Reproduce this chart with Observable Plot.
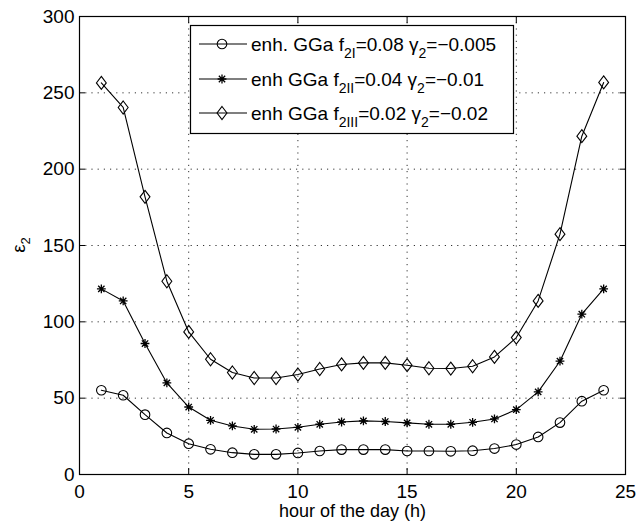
<!DOCTYPE html>
<html><head><meta charset="utf-8">
<script src="https://cdn.jsdelivr.net/npm/d3@7"></script>
<script src="https://cdn.jsdelivr.net/npm/@observablehq/plot@0.6"></script>
<style>
body{margin:0;background:#fff}
svg{font-family:"Liberation Sans",Arial,Helvetica,sans-serif}
</style>
</head><body><div id="chart"></div>
<script>
// ---- data ----
const hours = [1,2,3,4,5,6,7,8,9,10,11,12,13,14,15,16,17,18,19,20,21,22,23,24];
const seriesNames = [
  "enh. GGa f2I=0.08 γ2=−0.005",
  "enh GGa f2II=0.04 γ2=−0.01",
  "enh GGa f2III=0.02 γ2=−0.02"
];
const circleValues = [55.2,51.9,39.2,27.2,20.2,16.5,14.3,13.2,13.2,14.1,15.4,16.3,16.3,16.3,15.4,15.4,15.2,15.6,17.0,19.6,24.6,34.0,48.0,55.2];
const starValues = [121.6,113.7,85.8,60.0,44.2,35.5,31.8,29.6,29.8,30.9,32.9,34.4,35.1,34.7,33.8,32.9,32.9,34.2,36.4,42.5,54.1,74.2,105.0,121.6];
const diamondValues = [256.5,240.4,181.9,126.6,93.4,75.5,66.8,63.2,63.2,65.5,69.1,72.1,73.1,73.1,71.6,69.6,69.4,70.9,77.0,89.7,113.7,157.4,221.6,256.8];
const xTicks = [0,5,10,15,20,25];
const yTicks = [0,50,100,150,200,250,300];
const xGrid = [5,10,15,20];
const yGrid = [50,100,150,200,250];
const xLabel = "hour of the day (h)";

// ---- symbols ----
const diamondSym = {draw(ctx, size){const r=Math.sqrt(size/Math.PI);const w=r*0.95,h=r*1.25;
  ctx.moveTo(0,-h);ctx.lineTo(w,0);ctx.lineTo(0,h);ctx.lineTo(-w,0);ctx.closePath();}};
const starSym = {draw(ctx, size){const r=Math.sqrt(size/Math.PI);const d=r*0.72;
  ctx.moveTo(-r,0);ctx.lineTo(r,0);ctx.moveTo(0,-r);ctx.lineTo(0,r);
  ctx.moveTo(-d,-d);ctx.lineTo(d,d);ctx.moveTo(-d,d);ctx.lineTo(d,-d);}};
const circleSym = {draw(ctx, size){const r=Math.sqrt(size/Math.PI);ctx.moveTo(r,0);ctx.arc(0,0,r,0,2*Math.PI);}};

const rows = (vals, s) => hours.map((h,i)=>({hour:h, value:vals[i], series:s}));
const cRows = rows(circleValues, seriesNames[0]);
const sRows = rows(starValues, seriesNames[1]);
const dRows = rows(diamondValues, seriesNames[2]);

const plot = Plot.plot({
  width: 636, height: 525,
  marginLeft: 79, marginRight: 11, marginTop: 16, marginBottom: 51,
  style: {fontSize: "19px", fontFamily: '"Liberation Sans",Arial,Helvetica,sans-serif', background: "white", color: "black"},
  x: {domain: [0,25]},
  y: {domain: [0,300]},
  marks: [
    Plot.gridX(xGrid, {stroke:"#333", strokeOpacity:1, strokeDasharray:"1.2,5"}),
    Plot.gridY(yGrid, {stroke:"#333", strokeOpacity:1, strokeDasharray:"1.2,5"}),
    Plot.line(cRows, {x:"hour", y:"value", stroke:"black", strokeWidth:1.1}),
    Plot.line(sRows, {x:"hour", y:"value", stroke:"black", strokeWidth:1.1}),
    Plot.line(dRows, {x:"hour", y:"value", stroke:"black", strokeWidth:1.1}),
    Plot.dot(cRows, {x:"hour", y:"value", r:4.8, symbol:circleSym, stroke:"black", fill:"none", strokeWidth:1.1}),
    Plot.dot(sRows, {x:"hour", y:"value", r:4.4, symbol:starSym, stroke:"black", fill:"none", strokeWidth:1.3}),
    Plot.dot(dRows, {x:"hour", y:"value", r:5.2, symbol:diamondSym, stroke:"black", fill:"none", strokeWidth:1.1}),
    Plot.frame({stroke:"black", strokeWidth:1.2}),
    Plot.axisX(xTicks, {anchor:"bottom", tickSize:0, tickPadding:10, label:null}),
    Plot.axisX(xTicks, {anchor:"bottom", tickSize:6, dy:-6, fill:"none", label:null}),
    Plot.axisX(xTicks, {anchor:"top", tickSize:6, dy:6, fill:"none", label:null}),
    Plot.axisY(yTicks, {anchor:"left", tickSize:0, tickPadding:5, label:null}),
    Plot.axisY(yTicks, {anchor:"left", tickSize:6, dx:6, fill:"none", label:null}),
    Plot.axisY(yTicks, {anchor:"right", tickSize:6, dx:-6, fill:"none", label:null}),
    Plot.text([xLabel], {frameAnchor:"bottom", dy:37, text:d=>d, lineAnchor:"middle", fontSize:18})
  ]
});
document.getElementById("chart").appendChild(plot);

// ---- y label and legend (annotations) ----
const svg = d3.select(plot);
const yl = svg.append("text").attr("transform","translate(25,245) rotate(-90)")
  .attr("text-anchor","middle").attr("font-size",19).attr("fill","black");
yl.append("tspan").text("ε");
yl.append("tspan").attr("font-size",13).attr("dy",5).text("2");

const lg = svg.append("g").attr("text-anchor","start");
lg.append("rect").attr("x",190.5).attr("y",25.5).attr("width",323).attr("height",108)
  .attr("fill","white").attr("stroke","black").attr("stroke-width",1.2);
const entries = [
  {sym:circleSym, r:4.8, sw:1.1, parts:[["enh. GGa f",0],["2I",1],["=0.08 γ",0],["2",1],["=−0.005",0]]},
  {sym:starSym, r:4.4, sw:1.3, parts:[["enh GGa f",0],["2II",1],["=0.04 γ",0],["2",1],["=−0.01",0]]},
  {sym:diamondSym, r:5.2, sw:1.1, parts:[["enh GGa f",0],["2III",1],["=0.02 γ",0],["2",1],["=−0.02",0]]}
];
const ys = [44, 79, 113];
entries.forEach((e,i)=>{
  const y = ys[i];
  lg.append("line").attr("x1",199).attr("x2",247).attr("y1",y).attr("y2",y).attr("stroke","black").attr("stroke-width",1.1);
  lg.append("path").attr("transform",`translate(222,${y})`)
    .attr("d", d3.symbol().type(e.sym).size(Math.PI*e.r*e.r)())
    .attr("fill","none").attr("stroke","black").attr("stroke-width",e.sw);
  const t = lg.append("text").attr("x",251).attr("y",y+6.8).attr("font-size",19)
    .attr("fill","black").attr("text-anchor","start");
  let sub = false;
  e.parts.forEach(([s,isSub])=>{
    const ts = t.append("tspan").text(s);
    if (isSub && !sub){ ts.attr("font-size",14).attr("dy",7); sub=true; }
    else if (!isSub && sub){ ts.attr("dy",-7); sub=false; }
  });
});
</script>
</body></html>
